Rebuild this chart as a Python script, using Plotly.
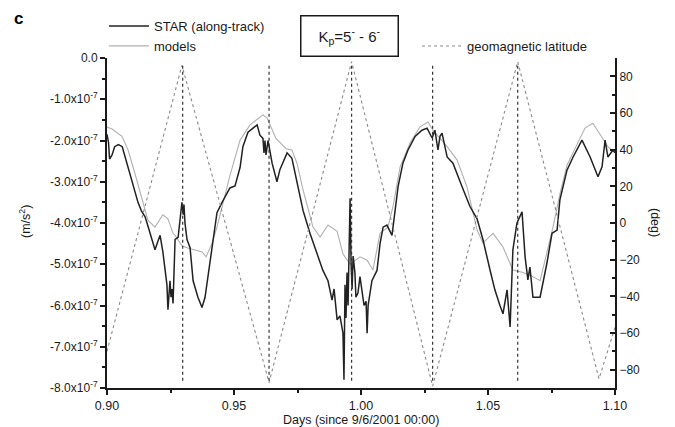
import plotly.graph_objects as go

# ---------------- data ----------------
# STAR along-track acceleration (units of 1e-7 m/s^2)
star_days = [0.9000, 0.9006, 0.9010, 0.9020, 0.9030, 0.9045, 0.9060, 0.9071, 0.9085, 0.9098,
             0.9110, 0.9122, 0.9135, 0.9150, 0.9160, 0.9169, 0.9180, 0.9189, 0.9200, 0.9209,
             0.9220, 0.9230, 0.9236, 0.9240, 0.9244, 0.9248, 0.9252, 0.9256, 0.9260, 0.9264,
             0.9268, 0.9280, 0.9288, 0.9295, 0.9300, 0.9303, 0.9307, 0.9315, 0.9327, 0.9339,
             0.9358, 0.9374, 0.9386, 0.9400, 0.9413, 0.9433, 0.9453, 0.9470, 0.9484, 0.9504,
             0.9524, 0.9535, 0.9555, 0.9575, 0.9591, 0.9602, 0.9614, 0.9618, 0.9622, 0.9626,
             0.9634, 0.9650, 0.9669, 0.9681, 0.9709, 0.9728, 0.9748, 0.9772, 0.9799, 0.9827,
             0.9850, 0.9870, 0.9886, 0.9894, 0.9906, 0.9917, 0.9929, 0.9933, 0.9937, 0.9941,
             0.9945, 0.9949, 0.9953, 0.9957, 0.9961, 0.9965, 0.9969, 0.9976, 0.9980, 0.9988,
             0.9996, 1.0004, 1.0012, 1.0020, 1.0024, 1.0028, 1.0043, 1.0063, 1.0075, 1.0087,
             1.0102, 1.0122, 1.0134, 1.0146, 1.0165, 1.0185, 1.0213, 1.0240, 1.0260, 1.0280,
             1.0291, 1.0303, 1.0311, 1.0319, 1.0339, 1.0362, 1.0398, 1.0429, 1.0457, 1.0480,
             1.0508, 1.0527, 1.0547, 1.0559, 1.0575, 1.0587, 1.0598, 1.0614, 1.0634, 1.0646,
             1.0657, 1.0665, 1.0677, 1.0705, 1.0732, 1.0752, 1.0772, 1.0783, 1.0811, 1.0835,
             1.0870, 1.0902, 1.0933, 1.0949, 1.0961, 1.0972, 1.0992, 1.1000]
star_acc = [-1.85, -2.05, -2.45, -2.35, -2.15, -2.10, -2.15, -2.40, -2.70, -2.95,
            -3.25, -3.50, -3.70, -3.85, -4.05, -4.25, -4.50, -4.65, -4.45, -4.30,
            -4.70, -5.20, -5.50, -6.10, -5.60, -5.40, -5.80, -5.60, -5.95, -5.30,
            -4.40, -4.35, -3.90, -3.50, -3.80, -3.55, -4.00, -4.40, -4.60, -5.40,
            -5.80, -6.05, -5.80, -5.20, -4.65, -3.75, -3.50, -3.30, -3.15, -3.10,
            -2.65, -2.15, -1.80, -1.70, -1.62, -1.87, -1.95, -2.30, -2.00, -2.35,
            -2.00, -2.55, -3.00, -2.70, -2.30, -2.43, -3.03, -3.70, -4.25, -4.73,
            -5.15, -5.40, -5.87, -5.60, -6.35, -6.25, -6.67, -7.80, -5.50, -6.30,
            -5.20, -6.00, -4.50, -3.40, -5.00, -5.60, -4.80, -5.20, -5.80, -5.70,
            -5.30, -5.60, -6.00, -5.90, -6.67, -6.00, -5.40, -5.15, -4.50, -4.10,
            -4.05, -4.30, -3.77, -3.12, -2.55, -2.23, -1.90, -1.75, -1.70, -1.94,
            -1.75, -2.23, -1.90, -1.82, -2.40, -2.55, -3.12, -3.60, -3.90, -4.40,
            -5.14, -5.62, -6.00, -6.20, -5.62, -6.52, -4.65, -4.00, -3.73, -4.82,
            -5.38, -5.07, -5.80, -5.80, -4.97, -4.25, -4.17, -3.44, -2.72, -2.40,
            -1.99, -2.40, -2.88, -2.64, -1.99, -2.40, -2.23, -2.30]

# models (units of 1e-7 m/s^2)
model_days = [0.9000, 0.9020, 0.9059, 0.9083, 0.9110, 0.9138, 0.9161, 0.9189, 0.9220, 0.9240,
              0.9260, 0.9268, 0.9295, 0.9315, 0.9350, 0.9374, 0.9390, 0.9413, 0.9433, 0.9453,
              0.9484, 0.9524, 0.9563, 0.9614, 0.9630, 0.9665, 0.9705, 0.9728, 0.9748, 0.9772,
              0.9811, 0.9839, 0.9870, 0.9906, 0.9929, 0.9957, 0.9996, 1.0024, 1.0047, 1.0075,
              1.0106, 1.0126, 1.0154, 1.0193, 1.0232, 1.0264, 1.0283, 1.0339, 1.0378, 1.0417,
              1.0457, 1.0480, 1.0520, 1.0559, 1.0598, 1.0638, 1.0677, 1.0705, 1.0736, 1.0756,
              1.0783, 1.0811, 1.0850, 1.0882, 1.0913, 1.0941, 1.0972, 1.1000]
model_acc = [-1.67, -1.72, -1.90, -2.23, -2.80, -3.44, -3.93, -4.10, -3.80, -3.90,
             -4.25, -4.30, -4.55, -4.60, -4.65, -4.70, -4.82, -4.50, -4.10, -3.60,
             -2.85, -1.99, -1.62, -1.38, -1.45, -1.95, -2.20, -2.23, -2.55, -3.20,
             -4.10, -4.34, -4.05, -4.20, -4.75, -5.00, -4.82, -4.90, -5.14, -4.25,
             -4.10, -3.60, -2.64, -2.06, -1.67, -1.55, -1.75, -2.15, -2.47, -3.12,
             -4.17, -4.48, -4.25, -4.58, -5.14, -5.20, -5.30, -5.40, -4.65, -4.10,
             -3.30, -2.60, -2.10, -1.70, -1.58, -1.85, -2.15, -2.30]

# geomagnetic latitude (deg)
lat_days = [0.9000, 0.9295, 0.9638, 0.9963, 1.0282, 1.0617, 1.0937, 1.1000]
lat_deg = [-70, 86, -87, 88, -89, 88, -85, -57]

# pole crossings (vertical dotted markers), span in deg
pole_days = [0.9298, 0.9638, 0.9963, 1.0282, 1.0617]
pole_span = [-86, 86]

x_ticks = [0.90, 0.95, 1.00, 1.05, 1.10]
y_ticks = [0, -1, -2, -3, -4, -5, -6, -7, -8]
y_ticktext = ["0.0"] + ["-%d.0x10<sup>-7</sup>" % k for k in range(1, 9)]
y2_ticks = [80, 60, 40, 20, 0, -20, -40, -60, -80]

FONT = "Liberation Sans, Arial, sans-serif"
INK = "#1a1a1a"

fig = go.Figure()

fig.add_trace(go.Scatter(x=lat_days, y=lat_deg, yaxis="y2", mode="lines",
                         line=dict(color="#8a8a8a", width=1.1, dash="dot"),
                         name="geomagnetic latitude", legend="legend2"))
for d in pole_days:
    fig.add_trace(go.Scatter(x=[d, d], y=pole_span, yaxis="y2", mode="lines",
                             line=dict(color="#333333", width=1.2, dash="dot"),
                             showlegend=False, hoverinfo="skip"))
fig.add_trace(go.Scatter(x=model_days, y=model_acc, mode="lines",
                         line=dict(color="#b0b0b0", width=1.1),
                         name="models", legend="legend"))
fig.add_trace(go.Scatter(x=star_days, y=star_acc, mode="lines",
                         line=dict(color="#222222", width=1.5),
                         name="STAR (along-track)", legend="legend"))

W, H = 675, 427
L, R, T, B = 107, 60, 58, 39
pw, ph = W - L - R, H - T - B

fig.update_layout(
    width=W, height=H,
    margin=dict(l=L, r=R, t=T, b=B, autoexpand=False),
    paper_bgcolor="white", plot_bgcolor="white",
    font=dict(family=FONT, size=12, color=INK),
    xaxis=dict(range=[0.9, 1.1], tickvals=x_ticks, tickformat=".2f",
               showgrid=False, zeroline=False, showline=True, linecolor=INK, linewidth=2,
               ticks="outside", ticklen=5, tickwidth=2, tickcolor=INK,
               minor=dict(dtick=0.025, ticks="outside", ticklen=3, tickwidth=1.5, tickcolor=INK),
               tickfont=dict(size=12.5)),
    yaxis=dict(range=[-8, 0], tickvals=y_ticks, ticktext=y_ticktext,
               showgrid=False, zeroline=False, showline=True, linecolor=INK, linewidth=2,
               ticks="outside", ticklen=5, tickwidth=2, tickcolor=INK,
               minor=dict(dtick=0.5, ticks="outside", ticklen=3, tickwidth=1.5, tickcolor=INK),
               tickfont=dict(size=12)),
    yaxis2=dict(range=[-90, 90], tickvals=y2_ticks, overlaying="y", side="right",
                showgrid=False, zeroline=False, showline=True, linecolor=INK, linewidth=2,
                ticks="inside", ticklen=5, tickwidth=2, tickcolor=INK,
                minor=dict(dtick=10, ticks="inside", ticklen=3, tickwidth=1.5, tickcolor=INK),
                tickfont=dict(size=12)),
    legend=dict(x=-3 / pw, y=1 + 47 / ph, xanchor="left", yanchor="top",
                traceorder="reversed", bgcolor="rgba(0,0,0,0)", borderwidth=0,
                font=dict(size=13), itemwidth=40, tracegroupgap=0),
    legend2=dict(x=(417 - L) / pw, y=1 + 27 / ph, xanchor="left", yanchor="top",
                 bgcolor="rgba(0,0,0,0)", borderwidth=0, font=dict(size=13), itemwidth=40),
    showlegend=True,
)

fig.add_annotation(text="<b>c</b>", xref="paper", yref="paper",
                   x=-(L - 12) / pw, y=1 + (T - 18) / ph, xanchor="left", yanchor="middle",
                   showarrow=False, font=dict(size=17, color="#000"))
fig.add_annotation(text="K<sub>p</sub>=5<sup>-</sup> - 6<sup>-</sup>", xref="paper", yref="paper",
                   x=(349 - L) / pw, y=1 + (T - 36) / ph, xanchor="center", yanchor="middle",
                   showarrow=False, font=dict(size=15, color=INK),
                   bordercolor=INK, borderwidth=1.5, borderpad=4, bgcolor="white",
                   width=88, height=31)
fig.add_annotation(text="(m/s<sup>2</sup>)", xref="paper", yref="paper",
                   x=-(L - 25) / pw, y=(H - B - 222) / ph, xanchor="center", yanchor="middle",
                   textangle=-90, showarrow=False, font=dict(size=12.5, color=INK))
fig.add_annotation(text="(deg)", xref="paper", yref="paper",
                   x=1 + (655 - (W - R)) / pw, y=(H - B - 222) / ph, xanchor="center", yanchor="middle",
                   textangle=90, showarrow=False, font=dict(size=12.5, color=INK))
fig.add_annotation(text="Days (since 9/6/2001 00:00)", xref="paper", yref="paper",
                   x=(361 - L) / pw, y=-(420 - (H - B)) / ph, xanchor="center", yanchor="middle",
                   showarrow=False, font=dict(size=12.5, color=INK))

fig.write_html("out.html", config={"displayModeBar": False},
               post_script="document.body.style.margin='0';document.body.style.overflow='hidden';")
